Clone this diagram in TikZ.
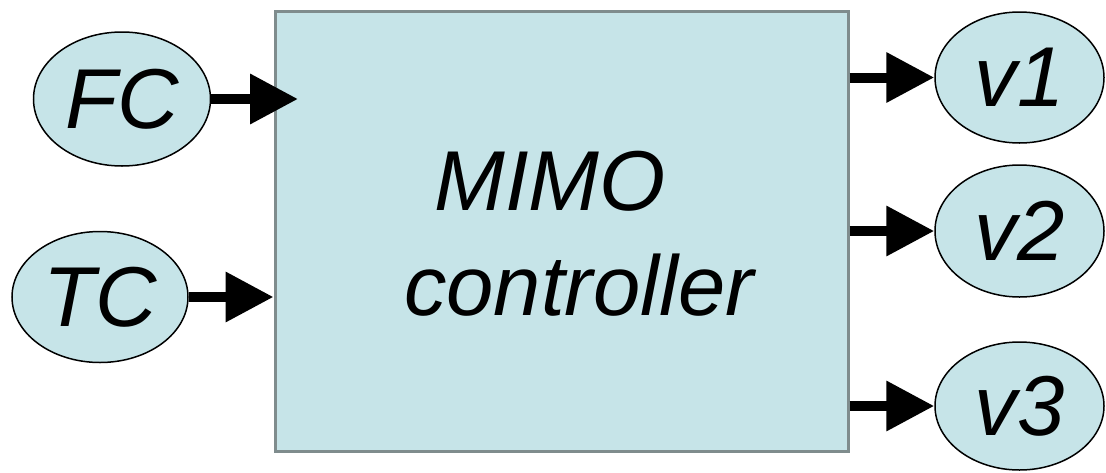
\documentclass[tikz,border=0pt]{standalone}
\usepackage{fontspec}
\setmainfont{Liberation Sans}
\usetikzlibrary{shapes.geometric,arrows.meta}
\definecolor{boxfill}{HTML}{C6E4E8}
\definecolor{boxline}{HTML}{7F8C8D}
\tikzset{
  lbl/.style={font=\fontsize{85}{100}\selectfont\itshape, inner sep=0pt},
  ell/.style={ellipse, draw=black, line width=1.5pt, fill=boxfill, inner sep=0pt, font=\fontsize{85}{100}\selectfont\itshape},
  ctrl/.style={rectangle, draw=boxline, line width=3pt, fill=boxfill, inner sep=0pt},
  arr/.style={line width=10pt, -{Triangle[length=48pt,width=48pt]}}
}
\begin{document}
\begin{tikzpicture}[x=1pt,y=-1pt]
\useasboundingbox (0,0) rectangle (1106,472);
\node[ctrl, minimum width=573pt, minimum height=440pt] (box) at (561.5,231) {};
\node[lbl, anchor=base] (t1) at (550,210) {MIMO};
\node[lbl, anchor=base] (t2) at (579,315) {controller};
\node[ell, minimum width=177pt, minimum height=134pt] (fc) at (122,99) {FC};
\node[ell, minimum width=176pt, minimum height=131pt] (tc) at (100,297) {TC};
\node[ell, minimum width=169pt, minimum height=131pt] (v1) at (1019.5,77.5) {v1};
\node[ell, minimum width=169pt, minimum height=132pt] (v2) at (1019.5,231) {v2};
\node[ell, minimum width=169pt, minimum height=128pt] (v3) at (1019.5,406) {v3};
\coordinate (fctip) at (298,99);
\draw[arr] (fc.east) -- (fctip);
\draw[arr] (tc.east) -- (box.west |- tc.east);
\draw[arr] (box.east |- v1.west) -- (v1.west);
\draw[arr] (box.east |- v2.west) -- (v2.west);
\draw[arr] (box.east |- v3.west) -- (v3.west);
\end{tikzpicture}
\end{document}
